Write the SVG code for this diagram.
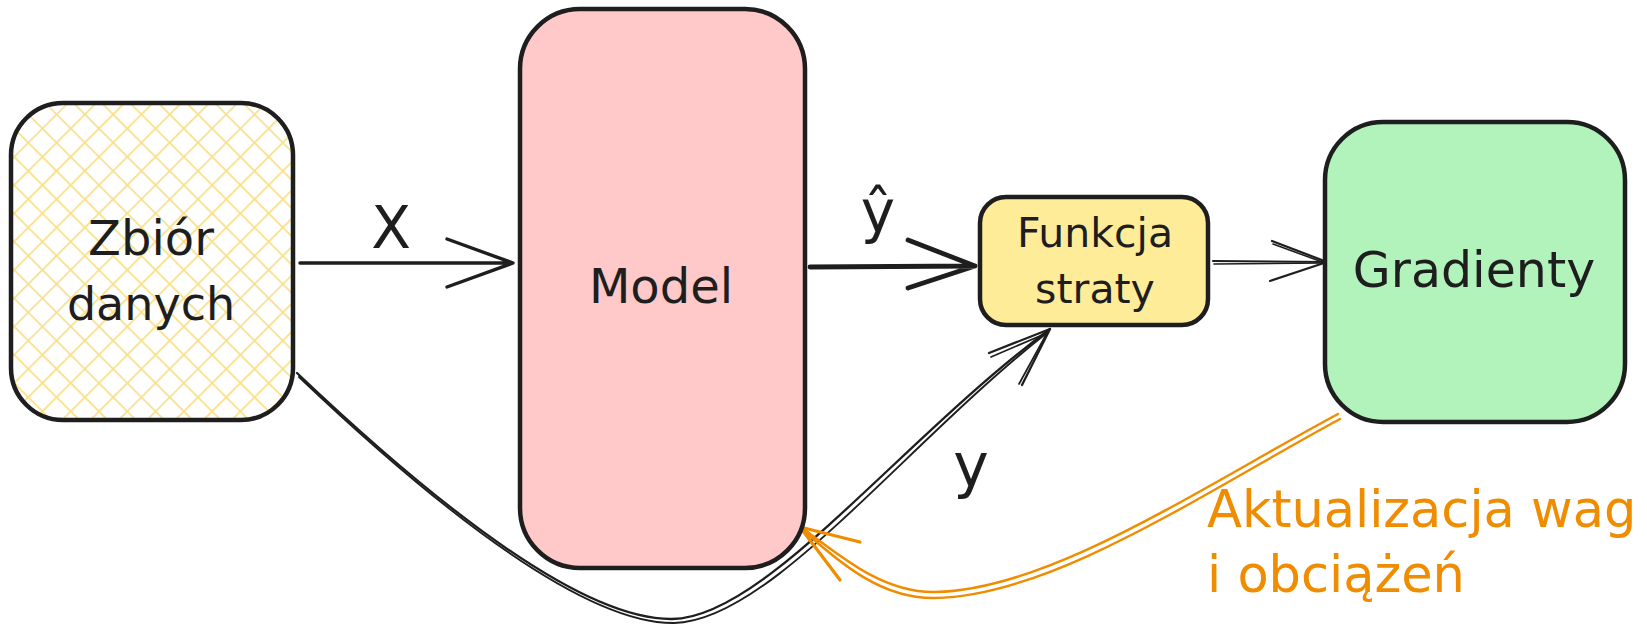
<svg xmlns="http://www.w3.org/2000/svg" width="1647" height="624" viewBox="0 0 1647 624">
  <style>
    .box { stroke: #1e1e1e; stroke-width: 4.5; stroke-linejoin: round; }
    .lbl { font-family: "DejaVu Sans", "Liberation Sans", sans-serif; fill: #1e1e1e; text-anchor: middle; }
    .ln { fill: none; stroke: #1e1e1e; stroke-linecap: round; stroke-linejoin: round; }
    .or { fill: none; stroke: #f08c00; stroke-linecap: round; stroke-linejoin: round; }
    .ortxt { font-family: "DejaVu Sans", "Liberation Sans", sans-serif; fill: #f08c00; }
  </style>
  <defs>
    <pattern id="hatch" patternUnits="userSpaceOnUse" width="20" height="20" patternTransform="rotate(45)">
      <rect width="20" height="20" fill="#ffffff"/>
      <line x1="0" y1="0" x2="0" y2="20" stroke="#f9df86" stroke-width="3.4"/>
      <line x1="0" y1="0" x2="20" y2="0" stroke="#f9df86" stroke-width="3.4"/>
    </pattern>
  </defs>
  <rect width="1647" height="624" fill="#ffffff"/>

  <g id="connectors">
    <g id="edge-x">
      <path class="ln" stroke-width="3.4" d="M300,263 L513,263 M447,239 L513,263 L447,287"/>
    </g>
    <g id="edge-yhat">
      <path class="ln" stroke-width="4.8" d="M810,267 L975,266 M908,240 L975,266 L908,288"/>
    </g>
    <g id="edge-grad">
      <path class="ln" stroke-width="2.2" d="M1213,261 L1327,262 M1272,241 L1327,262 L1270,281"/>
      <path class="ln" stroke-width="1.6" d="M1214,264 L1325,263 M1273,244 L1325,263"/>
    </g>
    <g id="edge-y">
      <path class="ln" stroke-width="2.3" d="M297,373 C415,485 575,620 672,619 C765,618 900,440 1050,329"/>
      <path class="ln" stroke-width="1.9" d="M299,377 C418,490 577,624 674,623 C769,622 904,445 1048,332"/>
      <path class="ln" stroke-width="2.3" d="M989,353 L1050,329 L1022,385"/>
      <path class="ln" stroke-width="1.7" d="M991,357 L1047,333 L1019,384"/>
    </g>
    <g id="edge-update">
      <path class="or" stroke-width="2.4" d="M1338,414 C1200,488 1050,590 935,592 C885,593 845,560 801,527"/>
      <path class="or" stroke-width="2.4" d="M1340,419 C1203,493 1053,596 935,598 C883,599 842,565 804,531"/>
      <path class="or" stroke-width="3.2" d="M860,542 L800,527 L840,580"/>
    </g>
  </g>

  <g id="node-zbior">
    <rect class="box" x="11" y="103" width="282" height="317" rx="52" fill="url(#hatch)"/>
    <text class="lbl" x="151" y="255" font-size="48">Zbiór</text>
    <text class="lbl" x="151" y="320" font-size="46">danych</text>
  </g>

  <g id="node-model">
    <rect class="box" x="520" y="9" width="285" height="559" rx="60" fill="#ffc9c9"/>
    <text class="lbl" x="661" y="303" font-size="48">Model</text>
  </g>

  <g id="node-funkcja">
    <rect class="box" x="980" y="197" width="228" height="128" rx="26" fill="#ffec99"/>
    <text class="lbl" x="1095" y="247" font-size="41">Funkcja</text>
    <text class="lbl" x="1095" y="303" font-size="41">straty</text>
  </g>

  <g id="node-gradienty">
    <rect class="box" x="1325" y="122" width="300" height="300" rx="58" fill="#b2f2bb"/>
    <text class="lbl" x="1474" y="287" font-size="49">Gradienty</text>
  </g>

  <g id="labels">
    <text class="lbl" x="391" y="248" font-size="58">X</text>
    <text class="lbl" x="878" y="232" font-size="58">ŷ</text>
    <text class="lbl" x="971" y="486" font-size="60">y</text>
    <text class="ortxt" x="1207" y="527" font-size="51">Aktualizacja wag</text>
    <text class="ortxt" x="1207" y="592" font-size="51">i obciążeń</text>
  </g>
</svg>
